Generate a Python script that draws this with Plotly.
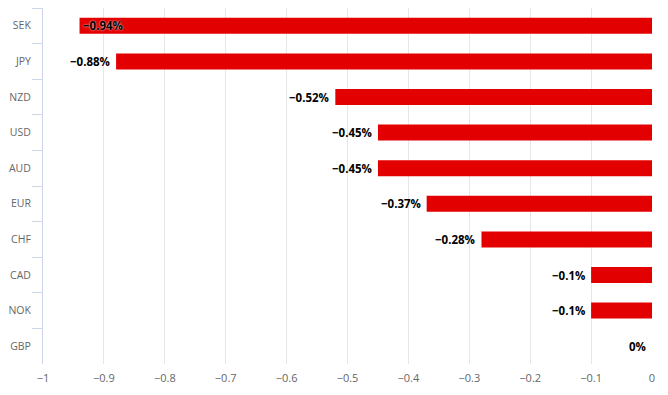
import plotly.graph_objects as go

currencies = ["SEK", "JPY", "NZD", "USD", "AUD", "EUR", "CHF", "CAD", "NOK", "GBP"]
changes = [-0.94, -0.88, -0.52, -0.45, -0.45, -0.37, -0.28, -0.1, -0.1, 0.0]
tick_vals = [-1, -0.9, -0.8, -0.7, -0.6, -0.5, -0.4, -0.3, -0.2, -0.1, 0]

def fmt(v):
    s = f"{abs(v):g}%"
    return ("\u2212" + s) if v < 0 else s

labels = [fmt(v) for v in changes]

fig = go.Figure(go.Bar(
    x=changes, y=currencies, orientation="h",
    marker=dict(color="#e30000", line=dict(width=0)),
    width=0.45,
    hoverinfo="skip",
))

label_font = dict(family="Open Sans", size=11.5, color="#000000", weight="bold")
for cat, v, lab in zip(currencies, changes, labels):
    inside = v <= -0.9
    fig.add_annotation(
        x=v, y=cat, xref="x", yref="y", text=lab, showarrow=False,
        xanchor="left" if inside else "right",
        xshift=1 if inside else -4,
        font=dict(label_font, shadow="0px 0px 2px white" if inside else "none"),
    )

fig.update_layout(
    width=660, height=387,
    margin=dict(l=35, r=16, t=0, b=31),
    paper_bgcolor="white", plot_bgcolor="white",
    showlegend=False,
    xaxis=dict(
        range=[-1, 0], tickvals=tick_vals,
        showgrid=True, gridcolor="#e6e6e6", gridwidth=1,
        zeroline=False, showline=False, ticks="",
        tickfont=dict(family="Open Sans", size=11, color="#666666"),
        ticklabelstandoff=6, automargin=False,
    ),
    yaxis=dict(
        type="category", autorange="reversed",
        showgrid=False, zeroline=False,
        showline=True, linecolor="#ccd6eb", linewidth=1,
        ticks="outside", tickson="boundaries", ticklen=10, tickcolor="#ccd6eb",
        tickfont=dict(family="Open Sans", size=10.5, color="#666666"),
        ticklabelstandoff=9, automargin=False,
    ),
)

fig.write_html("out.html")
